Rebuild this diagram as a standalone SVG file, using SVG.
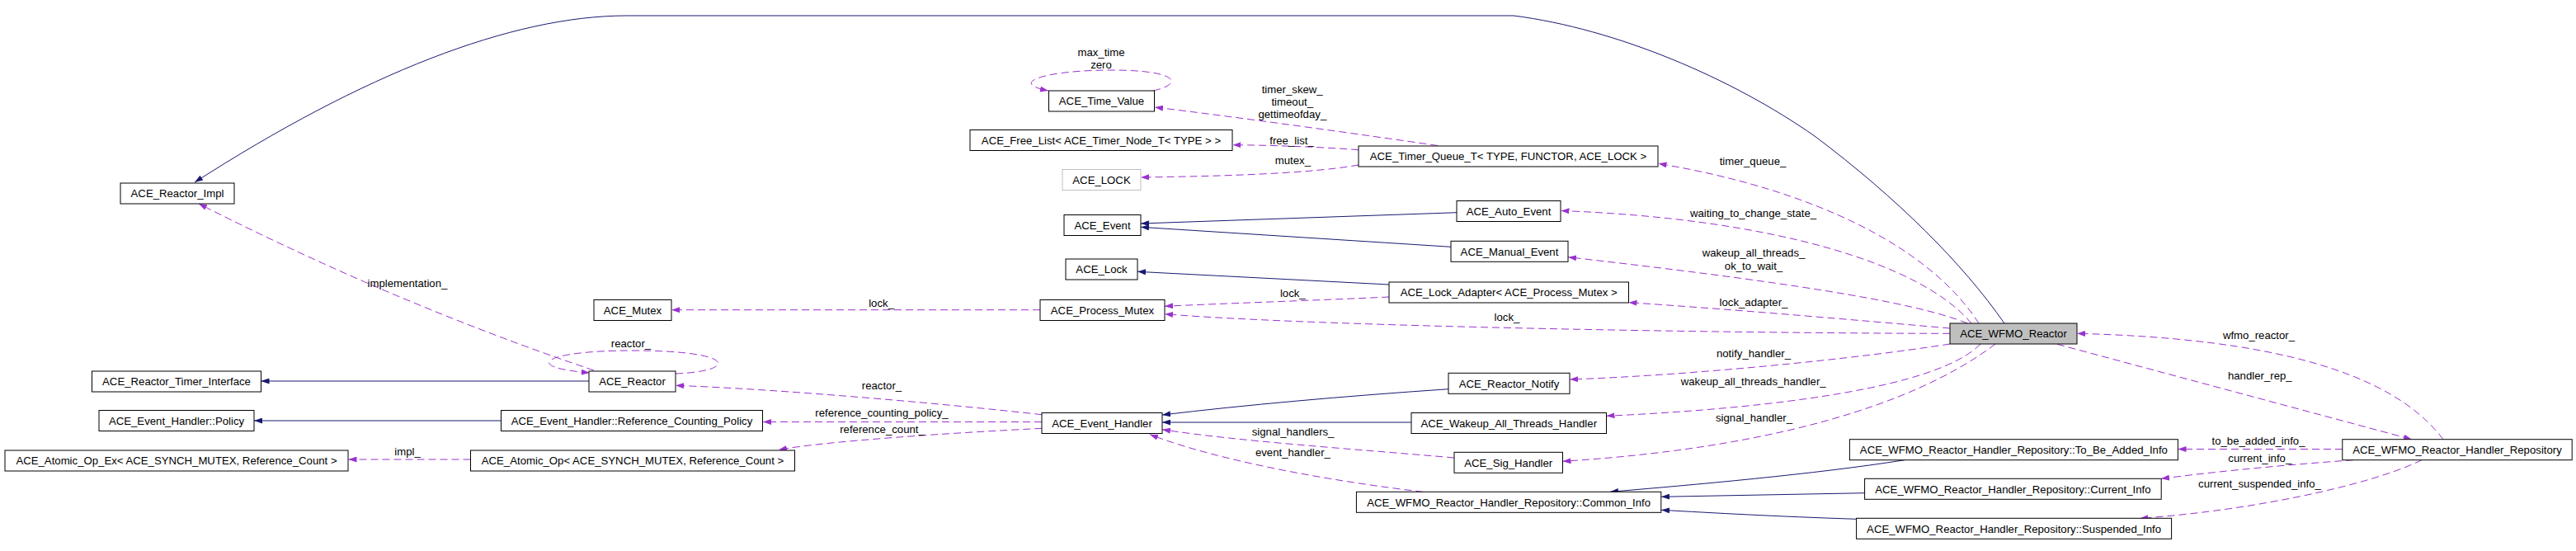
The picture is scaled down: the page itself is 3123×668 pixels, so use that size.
<svg xmlns="http://www.w3.org/2000/svg" width="3123" height="668" viewBox="0 0 3123 668">
<defs>
<marker id="ah" viewBox="0 0 10 7" refX="10" refY="3.5" markerWidth="10" markerHeight="7" markerUnits="userSpaceOnUse" orient="auto"><path d="M0,0 L10,3.5 L0,7 z" fill="#191970" stroke="none"/></marker>
<marker id="ap" viewBox="0 0 10 7" refX="10" refY="3.5" markerWidth="10" markerHeight="7" markerUnits="userSpaceOnUse" orient="auto"><path d="M0,0 L10,3.5 L0,7 z" fill="#9a32cd" stroke="none"/></marker>
</defs>
<style>
text { font-family: "Liberation Sans", Arial, sans-serif; font-size: 13.2px; fill: #000; }
.node rect { fill: #fff; stroke: #000; stroke-width: 1; }
.node text { text-anchor: middle; }
.node.main rect { fill: #bfbfbf; }
.node.undoc rect { stroke: #bfbfbf; }
.lbl { text-anchor: middle; }
.inh { fill: none; stroke: #191970; stroke-width: 1; marker-end: url(#ah); }
.use { fill: none; stroke: #9a32cd; stroke-width: 1; stroke-dasharray: 9,5; marker-end: url(#ap); }
</style>
<rect x="0" y="0" width="3123" height="668" fill="#fff"/>

<g id="edges">
<!-- inheritance -->
<path class="inh" d="M2430,392 C2380,320 2300,240 2200,165 C2100,95 1960,35 1835,19 L760,19 C620,19 440,90 236,221"/>
<path class="inh" d="M714,462 L316.5,462"/>
<path class="inh" d="M607.5,510 L308,510"/>
<path class="inh" d="M1766,257.7 L1383,271"/>
<path class="inh" d="M1759,299.3 L1383,275.3"/>
<path class="inh" d="M1684,345 L1379,329.3"/>
<path class="inh" d="M1756,471.7 Q1560,485 1409,503"/>
<path class="inh" d="M1711,512 L1409,512"/>
<path class="inh" d="M2309,557.7 C2200,575 2050,588 1952,596.3"/>
<path class="inh" d="M2260.6,597.7 L2014,602.3"/>
<path class="inh" d="M2250.6,629.3 C2150,626 2080,622 2014,618.3"/>

<!-- usage -->
<path class="use" d="M720,449 Q479.5,368 241,247"/>
<text class="lbl" x="494" y="347.5">implementation_</text>
<path class="use" d="M819,453 C895,450 895,425 766,425 C660,425 630,445 715,452"/>
<text class="lbl" x="765" y="421">reactor_</text>
<path class="use" d="M1263,502.7 C1150,490 950,472 819,467.3"/>
<text class="lbl" x="1069" y="472">reactor_</text>
<path class="use" d="M1263,511.5 L925,511.5"/>
<text class="lbl" x="1069" y="505">reference_counting_policy_</text>
<path class="use" d="M1263,519.3 C1150,525 1000,535 944,545.3"/>
<text class="lbl" x="1069.5" y="525">reference_count_</text>
<path class="use" d="M570.5,557 L422.5,557"/>
<text class="lbl" x="494" y="552">impl_</text>
<path class="use" d="M1261,375.7 L814,375.7"/>
<text class="lbl" x="1068.6" y="372">lock_</text>
<path class="use" d="M1398,110 C1435,102 1430,85 1347,85 C1270,85 1220,100 1271,110"/>
<text class="lbl" x="1335" y="68">max_time</text>
<text class="lbl" x="1335" y="83">zero</text>
<path class="use" d="M1743,176.5 C1650,163 1500,142 1400,130"/>
<text class="lbl" x="1566.7" y="113">timer_skew_</text>
<text class="lbl" x="1566.7" y="128">timeout_</text>
<text class="lbl" x="1566.8" y="143.3">gettimeofday_</text>
<path class="use" d="M1647,181.7 C1600,178 1540,176 1494.5,175.7"/>
<text class="lbl" x="1566" y="174.7">free_list_</text>
<path class="use" d="M1647,200 C1580,212 1450,214 1383,215"/>
<text class="lbl" x="1567.4" y="199">mutex_</text>
<path class="use" d="M1684,360 C1600,364 1480,368 1412,371.3"/>
<text class="lbl" x="1567.3" y="360">lock_</text>
<path class="use" d="M2364,404.3 C2100,404 1600,396 1412,380.7"/>
<text class="lbl" x="1827" y="389">lock_</text>
<path class="use" d="M1763,555 C1650,545 1500,535 1409,520.7"/>
<text class="lbl" x="1567.6" y="528">signal_handlers_</text>
<path class="use" d="M1725,596.3 C1620,584 1480,560 1394,526.7"/>
<text class="lbl" x="1567.4" y="552.7">event_handler_</text>
<path class="use" d="M2399,392 C2340,300 2200,230 2010.5,198.3"/>
<text class="lbl" x="2125" y="199.7">timer_queue_</text>
<path class="use" d="M2390,392 C2330,320 2150,265 1892.5,255.5"/>
<text class="lbl" x="2125.5" y="263">waiting_to_change_state_</text>
<path class="use" d="M2385,392 C2320,365 2150,340 1901,311.7"/>
<text class="lbl" x="2126" y="311.3">wakeup_all_threads_</text>
<text class="lbl" x="2126" y="326.7">ok_to_wait_</text>
<path class="use" d="M2364,398 C2250,388 2100,375 1974.5,366.7"/>
<text class="lbl" x="2126" y="370.7">lock_adapter_</text>
<path class="use" d="M2364,417 C2250,435 2050,455 1903,460"/>
<text class="lbl" x="2126" y="432.7">notify_handler_</text>
<path class="use" d="M2401,417 C2350,470 2150,495 1947.5,504.3"/>
<text class="lbl" x="2125.7" y="466.7">wakeup_all_threads_handler_</text>
<path class="use" d="M2419,417 C2350,470 2200,540 1894.5,559.3"/>
<text class="lbl" x="2126.5" y="511">signal_handler_</text>
<path class="use" d="M2962,532.7 C2900,450 2750,410 2518,404.3"/>
<text class="lbl" x="2738.5" y="410.7">wfmo_reactor_</text>
<path class="use" d="M2494,417.3 L2924,532.7"/>
<text class="lbl" x="2739.8" y="460">handler_rep_</text>
<path class="use" d="M2840,544.5 L2640.5,544.5"/>
<text class="lbl" x="2738" y="539.3">to_be_added_info_</text>
<path class="use" d="M2853,557.7 C2780,563 2700,570 2620,580.3"/>
<text class="lbl" x="2739.8" y="559.7">current_info_</text>
<path class="use" d="M2936,557.7 C2870,590 2720,620 2594.4,628.3"/>
<text class="lbl" x="2739.5" y="590.7">current_suspended_info_</text>
</g>

<g id="n_wfmo_reactor" class="node main"><rect x="2364" y="392" width="154" height="25"/><text x="2441" y="409.2">ACE_WFMO_Reactor</text></g>
<g id="n_reactor_impl" class="node"><rect x="146" y="222" width="138" height="25"/><text x="215" y="239.2">ACE_Reactor_Impl</text></g>
<g id="n_reactor" class="node"><rect x="714" y="450" width="105" height="25"/><text x="766.5" y="467.2">ACE_Reactor</text></g>
<g id="n_reactor_timer_interface" class="node"><rect x="111.5" y="450" width="205" height="25"/><text x="214" y="467.2">ACE_Reactor_Timer_Interface</text></g>
<g id="n_eh_policy" class="node"><rect x="120" y="497.5" width="188" height="25"/><text x="214" y="514.7">ACE_Event_Handler::Policy</text></g>
<g id="n_atomic_op_ex" class="node"><rect x="6" y="546" width="416" height="25"/><text x="214" y="563.2">ACE_Atomic_Op_Ex&lt; ACE_SYNCH_MUTEX, Reference_Count &gt;</text></g>
<g id="n_eh_rcp" class="node"><rect x="607.5" y="497.5" width="317" height="25"/><text x="766" y="514.7">ACE_Event_Handler::Reference_Counting_Policy</text></g>
<g id="n_atomic_op" class="node"><rect x="570.5" y="546" width="393" height="25"/><text x="767" y="563.2">ACE_Atomic_Op&lt; ACE_SYNCH_MUTEX, Reference_Count &gt;</text></g>
<g id="n_event_handler" class="node"><rect x="1263" y="500.5" width="146" height="25"/><text x="1336" y="517.7">ACE_Event_Handler</text></g>
<g id="n_mutex" class="node"><rect x="720" y="363.5" width="94" height="25"/><text x="767" y="380.7">ACE_Mutex</text></g>
<g id="n_process_mutex" class="node"><rect x="1261" y="363.5" width="151" height="25"/><text x="1336.5" y="380.7">ACE_Process_Mutex</text></g>
<g id="n_time_value" class="node"><rect x="1271.5" y="110" width="128" height="25"/><text x="1335.5" y="127.2">ACE_Time_Value</text></g>
<g id="n_free_list" class="node"><rect x="1176" y="157.5" width="318" height="25"/><text x="1335" y="174.7">ACE_Free_List&lt; ACE_Timer_Node_T&lt; TYPE &gt; &gt;</text></g>
<g id="n_ace_lock_t" class="node undoc"><rect x="1288" y="205.5" width="95" height="25"/><text x="1335.5" y="222.7">ACE_LOCK</text></g>
<g id="n_event" class="node"><rect x="1290" y="260.5" width="93" height="25"/><text x="1336.5" y="277.7">ACE_Event</text></g>
<g id="n_lock" class="node"><rect x="1292" y="314" width="87" height="25"/><text x="1335.5" y="331.2">ACE_Lock</text></g>
<g id="n_timer_queue" class="node"><rect x="1647" y="177" width="363" height="25"/><text x="1828.5" y="194.2">ACE_Timer_Queue_T&lt; TYPE, FUNCTOR, ACE_LOCK &gt;</text></g>
<g id="n_auto_event" class="node"><rect x="1766" y="243.5" width="126" height="25"/><text x="1829" y="260.7">ACE_Auto_Event</text></g>
<g id="n_manual_event" class="node"><rect x="1759" y="292.3" width="142" height="25"/><text x="1830" y="309.5">ACE_Manual_Event</text></g>
<g id="n_lock_adapter" class="node"><rect x="1684" y="342" width="290.5" height="25"/><text x="1829.25" y="359.2">ACE_Lock_Adapter&lt; ACE_Process_Mutex &gt;</text></g>
<g id="n_reactor_notify" class="node"><rect x="1756" y="452.3" width="147" height="25"/><text x="1829.5" y="469.5">ACE_Reactor_Notify</text></g>
<g id="n_wakeup" class="node"><rect x="1711" y="500.5" width="236.5" height="25"/><text x="1829.25" y="517.7">ACE_Wakeup_All_Threads_Handler</text></g>
<g id="n_sig_handler" class="node"><rect x="1763" y="548.3" width="131.5" height="25"/><text x="1828.75" y="565.5">ACE_Sig_Handler</text></g>
<g id="n_common_info" class="node"><rect x="1644.4" y="596.3" width="369.4" height="25"/><text x="1829.1" y="613.5">ACE_WFMO_Reactor_Handler_Repository::Common_Info</text></g>
<g id="n_to_be_added" class="node"><rect x="2242.4" y="532.7" width="398" height="25"/><text x="2441.4" y="549.9">ACE_WFMO_Reactor_Handler_Repository::To_Be_Added_Info</text></g>
<g id="n_current_info" class="node"><rect x="2260.6" y="580.3" width="359.6" height="25"/><text x="2440.4" y="597.5">ACE_WFMO_Reactor_Handler_Repository::Current_Info</text></g>
<g id="n_suspended_info" class="node"><rect x="2250.6" y="628.3" width="382" height="25"/><text x="2441.6" y="645.5">ACE_WFMO_Reactor_Handler_Repository::Suspended_Info</text></g>
<g id="n_handler_repo" class="node"><rect x="2839.8" y="532.7" width="278.4" height="25"/><text x="2979" y="549.9">ACE_WFMO_Reactor_Handler_Repository</text></g>
</svg>
